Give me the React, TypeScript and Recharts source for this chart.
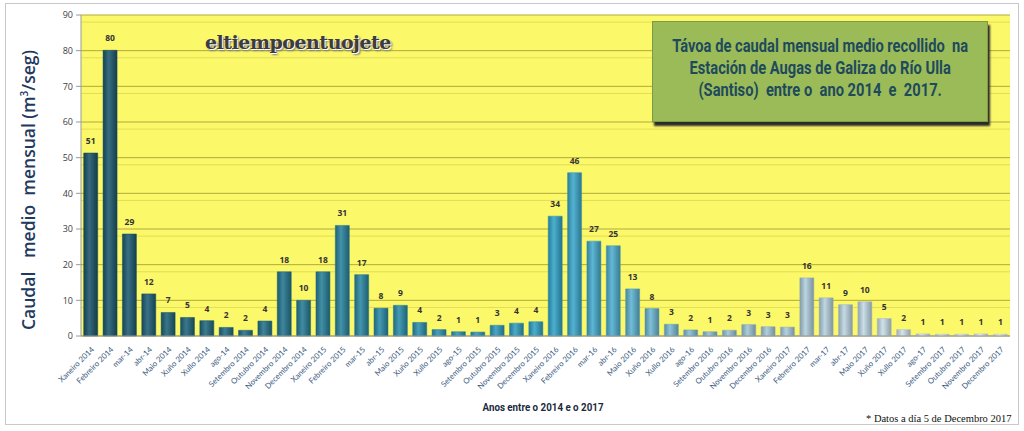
import React from 'react';
import { BarChart, Bar, XAxis, YAxis, CartesianGrid, Cell, LabelList } from 'recharts';

const months = [
  'Xaneiro 2014', 'Febreiro 2014', 'mar-14', 'abr-14', 'Maio 2014', 'Xuño 2014', 'Xullo 2014', 'ago-14', 'Setembro 2014', 'Outubro 2014', 'Novembro 2014', 'Decembro 2014',
  'Xaneiro 2015', 'Febreiro 2015', 'mar-15', 'abr-15', 'Maio 2015', 'Xuño 2015', 'Xullo 2015', 'ago-15', 'Setembro 2015', 'Outubro 2015', 'Novembro 2015', 'Decembro 2015',
  'Xaneiro 2016', 'Febreiro 2016', 'mar-16', 'abr-16', 'Maio 2016', 'Xuño 2016', 'Xullo 2016', 'ago-16', 'Setembro 2016', 'Outubro 2016', 'Novembro 2016', 'Decembro 2016',
  'Xaneiro 2017', 'Febreiro 2017', 'mar-17', 'abr-17', 'Maio 2017', 'Xuño 2017', 'Xullo 2017', 'ago-17', 'Setembro 2017', 'Outubro 2017', 'Novembro 2017', 'Decembro 2017',
];

const caudal = [
  51.3, 80.1, 28.6, 11.8, 6.6, 5.2, 4.3, 2.4, 1.6, 4.2, 18.0, 10.0,
  18.0, 31.0, 17.2, 7.8, 8.6, 3.8, 1.8, 1.2, 1.1, 3.0, 3.6, 4.0,
  33.6, 45.8, 26.6, 25.3, 13.2, 7.7, 3.3, 1.7, 1.2, 1.6, 3.2, 2.6,
  2.5, 16.3, 10.7, 8.8, 9.6, 4.9, 1.8, 0.6, 0.5, 0.5, 0.6, 0.5,
];

const labels = [
  51, 80, 29, 12, 7, 5, 4, 2, 2, 4, 18, 10,
  18, 31, 17, 8, 9, 4, 2, 1, 1, 3, 4, 4,
  34, 46, 27, 25, 13, 8, 3, 2, 1, 2, 3, 3,
  3, 16, 11, 9, 10, 5, 2, 1, 1, 1, 1, 1,
];

const majorTicks = [0, 10, 20, 30, 40, 50, 60, 70, 80, 90];
const minorTicks = [2, 4, 6, 8, 12, 14, 16, 18, 22, 24, 26, 28, 32, 34, 36, 38, 42, 44, 46, 48, 52, 54, 56, 58, 62, 64, 66, 68, 72, 74, 76, 78, 82, 84, 86, 88];

const data = months.map((m, i) => ({ name: m, value: caudal[i], label: labels[i] }));

// colour stops along the bar index (style only)
const colorStops: [number, string][] = [
  [0, '#1b566a'], [8, '#236f86'], [14, '#2a88a3'], [20, '#2f98b8'], [24, '#33a5c9'],
  [27, '#4fb0d2'], [30, '#7bbbd4'], [34, '#a0c6d6'], [38, '#b5d2df'], [43, '#d6e6ee'], [47, '#e6eef3'],
];

function hexToRgb(h: string) {
  const n = parseInt(h.slice(1), 16);
  return [(n >> 16) & 255, (n >> 8) & 255, n & 255];
}
function rgbToHex(r: number[]) {
  return '#' + r.map((v) => Math.max(0, Math.min(255, Math.round(v))).toString(16).padStart(2, '0')).join('');
}
function colorAt(i: number) {
  for (let k = 0; k < colorStops.length - 1; k++) {
    const [a, ca] = colorStops[k];
    const [b, cb] = colorStops[k + 1];
    if (i >= a && i <= b) {
      const t = (i - a) / (b - a);
      const x = hexToRgb(ca), y = hexToRgb(cb);
      return rgbToHex(x.map((v, j) => v + (y[j] - v) * t));
    }
  }
  return colorStops[colorStops.length - 1][1];
}
function shade(h: string, f: number) {
  return rgbToHex(hexToRgb(h).map((v) => v * f));
}
function tint(h: string, f: number) {
  return rgbToHex(hexToRgb(h).map((v) => v + (255 - v) * f));
}

const XTick = (props: any) => {
  const { x, y, payload } = props;
  const tx = x + 4;
  const ty = y + 6;
  return (
    <text x={tx} y={ty} textAnchor="end" fontSize={7.8} fill="#3a5a80" fontFamily="Lato, 'Open Sans', sans-serif" transform={`rotate(-45, ${tx}, ${ty})`}>
      {payload.value}
    </text>
  );
};

const narrow = "Roboto, 'Liberation Sans', sans-serif";

export default function App() {
  return (
    <div style={{ position: 'absolute', left: 0, top: 0, width: 1024, height: 431, background: '#ffffff', overflow: 'hidden' }}>
      <div style={{ position: 'absolute', left: 5, top: 3, width: 1012, height: 420, border: '1px solid #c9c9c9' }} />
      <BarChart
        width={1024}
        height={431}
        data={data}
        margin={{ top: 15, right: 14, bottom: 0, left: 41 }}
        barCategoryGap="14%"
      >
        <defs>
          {data.map((d, i) => {
            const c = colorAt(i);
            return (
              <linearGradient key={i} id={`bg${i}`} x1="0" y1="0" x2="1" y2="0">
                <stop offset="0%" stopColor={shade(c, 0.75)} />
                <stop offset="40%" stopColor={tint(c, 0.12)} />
                <stop offset="100%" stopColor={shade(c, 0.7)} />
              </linearGradient>
            );
          })}
        </defs>
        <CartesianGrid vertical={false} fill="#fbf86a" stroke="#e4dc55" horizontalValues={minorTicks} />
        <CartesianGrid vertical={false} stroke="#b4a93a" horizontalValues={majorTicks} />
        <XAxis
          dataKey="name"
          interval={0}
          tick={<XTick />}
          tickLine={false}
          axisLine={{ stroke: '#9a9a9a' }}
          height={95}
        />
        <YAxis
          domain={[0, 90]}
          ticks={majorTicks}
          width={40}
          tick={{ fontSize: 9, fill: '#404040', fontFamily: "'Open Sans', sans-serif" }}
          tickLine={{ stroke: '#9a9a9a' }}
          tickSize={5}
          tickMargin={3}
          axisLine={{ stroke: '#9a9a9a' }}
        />
        <Bar dataKey="value" isAnimationActive={false}>
          {data.map((d, i) => (
            <Cell key={i} fill={`url(#bg${i})`} stroke={shade(colorAt(i), 0.85)} strokeWidth={0.5} />
          ))}
          <LabelList dataKey="label" position="top" offset={9} fontSize={8.5} fontWeight={700} fill="#333333" fontFamily="'Open Sans', sans-serif" />
        </Bar>
      </BarChart>

      <div style={{ position: 'absolute', left: 28, top: 190, transform: 'translate(-50%, -50%) rotate(-90deg)', whiteSpace: 'pre', fontFamily: "'Open Sans', sans-serif", fontWeight: 600, fontSize: 17.5, color: '#1f3a60' }}>
        {'Caudal   medio  mensual (m'}<sup style={{ fontSize: 10 }}>3</sup>{'/seg)'}
      </div>

      <div style={{ position: 'absolute', left: 205, top: 31, fontFamily: "'DejaVu Serif', serif", fontWeight: 700, fontSize: 19, color: '#3c3c3c', textShadow: '1px 1px 0 #ffffff, 2px 2px 2px #777', letterSpacing: -0.5 }}>
        eltiempoentuojete
      </div>

      <div style={{ position: 'absolute', left: 652, top: 21, width: 336, height: 101, background: '#9bbb59', border: '1px solid #7f9a45', boxShadow: '2px 4px 2px #2a2a2a', display: 'flex', flexDirection: 'column', justifyContent: 'center', alignItems: 'center', boxSizing: 'border-box', paddingBottom: 8 }}>
        <div style={{ fontFamily: narrow, fontWeight: 700, fontSize: 17.5, lineHeight: '22px', color: '#1e4a5c', textAlign: 'center', whiteSpace: 'pre', transform: 'scaleX(0.84)' }}>
          {'Távoa de caudal mensual medio recollido  na\nEstación de Augas de Galiza do Río Ulla\n(Santiso)  entre o  ano 2014  e  2017.'}
        </div>
      </div>

      <div style={{ position: 'absolute', left: 543, top: 400, transform: 'translateX(-50%) scaleX(0.85)', fontFamily: narrow, fontWeight: 700, fontSize: 11.5, color: '#1a2a40', whiteSpace: 'pre' }}>
        Anos entre o 2014 e o 2017
      </div>

      <div style={{ position: 'absolute', left: 866, top: 413, fontFamily: "'Liberation Serif', serif", fontSize: 10.5, color: '#111111', whiteSpace: 'pre' }}>
        * Datos a día 5 de Decembro 2017
      </div>
    </div>
  );
}
